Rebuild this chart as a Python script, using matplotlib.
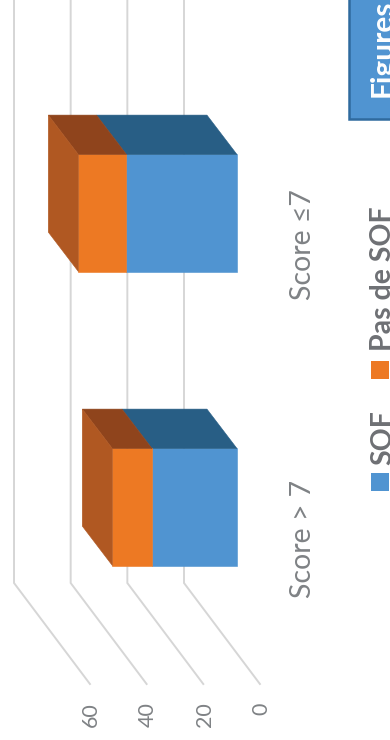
import matplotlib
matplotlib.use('Agg')
import matplotlib.pyplot as plt
from matplotlib.patches import Rectangle

plt.rcParams['font.family'] = ['Lato', 'DejaVu Sans']

# Donnees
categories = ['Score > 7', 'Score ≤7']
sof = [30, 39]
pas_de_sof = [14, 17]
ticks = [0, 20, 40, 60]

# Couleurs (face, dessus)
bleu = '#5094D1'
bleu_dessus = '#285E85'
orange = '#ED7923'
orange_dessus = '#8F441C'
orange_cote = '#B05822'
gris = '#D6D6D6'
texte = '#7F8285'

# Echelles : axe des valeurs horizontal (inverse), categories verticales
px_val = 2.833
px_cat = 294.0
demi = 0.199
front = -18.7    # decalage du plan avant de la barre
back = -8.1      # plan arriere de la barre
prof = 0.134     # profondeur vers le haut

fig = plt.figure(figsize=(3.9, 7.4), dpi=100)
ax = fig.add_axes([0, 0, 1, 1])
ax.set_xlim(184 / px_val, (184 - 390) / px_val)
ax.set_ylim((507 - 740) / px_cat, 507 / px_cat)
ax.axis('off')

# Grille : mur du fond puis sol
for t in ticks:
    ax.plot([t, t, t - 26.8], [1.73, -0.2585, -0.602], color=gris, lw=1.4,
            solid_joinstyle='miter', zorder=1)
    ax.text(t - 27.3, -0.665, str(t), rotation=90, ha='center', va='top',
            fontsize=15.5, color=texte)


def boite(c, v0, v1, face, dessus):
    # face avant et dessus d'un segment de la barre empilee
    ax.fill([v0 + front, v1 + front, v1 + front, v0 + front],
            [c - demi, c - demi, c + demi, c + demi], color=face, lw=0.4, zorder=3)
    ax.fill([v0 + front, v1 + front, v1 + back, v0 + back],
            [c + demi, c + demi, c + demi + prof, c + demi + prof],
            color=dessus, lw=0.4, zorder=3)


for i, cat in enumerate(categories):
    total = sof[i] + pas_de_sof[i]
    boite(i, 0, sof[i], bleu, bleu_dessus)
    boite(i, sof[i], total, orange, orange_dessus)
    # cote de la barre
    ax.fill([total + front, total + back, total + back, total + front],
            [i - demi, i - demi + prof, i + demi + prof, i + demi],
            color=orange_cote, lw=0.4, zorder=3)
    ax.text(-42.0, i - 0.107, cat, rotation=90, ha='center', va='center',
            fontsize=20.5, color=texte)


# Legende et cadre du titre, en pixels de la figure
def px(x, y):
    return x / 390, 1 - y / 740


for y0, couleur in [(491, bleu), (379, orange)]:
    xx, yy = px(371, y0)
    fig.add_artist(Rectangle((xx, yy), 18 / 390, 18 / 740, color=couleur, lw=0))
xx, yy = px(370, 465)
fig.text(xx, yy, 'SOF', rotation=90, ha='left', va='bottom', fontsize=20.5,
         fontweight='bold', color='#6E7074')
xx, yy = px(370, 351)
fig.text(xx, yy, 'Pas de SOF', rotation=90, ha='left', va='bottom', fontsize=20.5,
         fontweight='bold', color='#6E7074')

xx, yy = px(349, 119)
fig.add_artist(Rectangle((xx, yy), 60 / 390, 140 / 740, facecolor=bleu,
                         edgecolor='#2F6A9E', lw=1.8))
xx, yy = px(369, 97)
fig.text(xx, yy, 'Figures', rotation=90, ha='left', va='bottom', fontsize=21.5,
         fontweight='bold', color='white')

fig.savefig('out.png', dpi=100)
